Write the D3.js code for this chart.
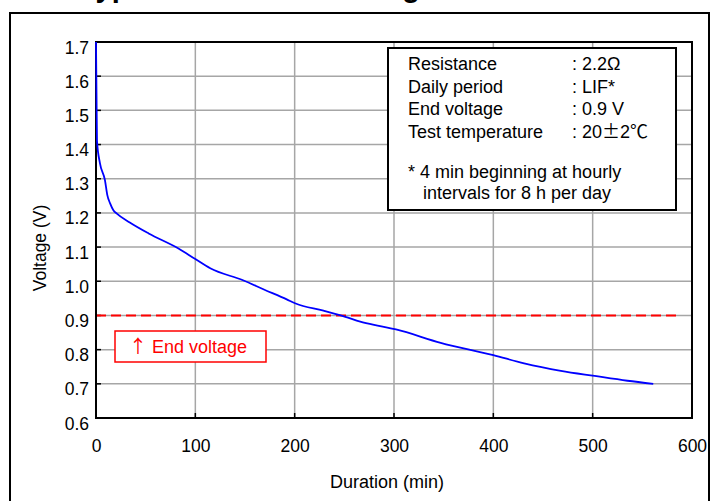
<!DOCTYPE html>
<html><head><meta charset="utf-8">
<script src="https://cdn.jsdelivr.net/npm/d3@7"></script>
<style>
html,body{margin:0;padding:0;background:#fff;}
svg text{font-family:"Liberation Sans",Arial,sans-serif;}
svg tspan.cjk{font-family:"Noto Sans CJK JP",sans-serif;}
</style>
</head><body>
<svg id="c" width="710" height="501"></svg>
<script>
// ---- data ----
const durations = [0, 0.5, 1, 4, 9, 11.4, 14.2, 17.5, 21, 34, 53, 83, 100, 115, 148, 169, 192, 201, 229, 251, 266, 286, 302, 347, 400, 431, 468, 502, 535, 561];
const voltages  = [1.70, 1.55, 1.41, 1.345, 1.296, 1.252, 1.228, 1.208, 1.198, 1.172, 1.14, 1.096, 1.065, 1.038, 1.003, 0.976, 0.947, 0.935, 0.914, 0.896, 0.882, 0.869, 0.859, 0.820, 0.784, 0.760, 0.738, 0.723, 0.709, 0.700];
const xTicks = [0, 100, 200, 300, 400, 500, 600];
const yTicks = [0.6, 0.7, 0.8, 0.9, 1.0, 1.1, 1.2, 1.3, 1.4, 1.5, 1.6, 1.7];
const endVoltage = 0.9;
const endLineStop = 585;
const legendLabels = ["Resistance", "Daily period", "End voltage", "Test temperature"];
// each value split into [text, isCJKGlyph] pieces
const legendValues = [
  [[": 2.2", false], ["\u03A9", false]],
  [[": LIF*", false]],
  [[": 0.9 V", false]],
  [[": 20", false], ["\u00B1", true], ["2", false], ["\u2103", true]]
];
const footnote = ["* 4 min beginning at hourly", "intervals for 8 h per day"];

const svg = d3.select("#c");
const x = d3.scaleLinear().domain([0, 600]).range([96, 692]);
const y = d3.scaleLinear().domain([0.6, 1.7]).range([418, 42]);

// title (mostly cut off at the top edge, as in the reference)
const title = svg.append("text").attr("y", -3).attr("font-size", 29).attr("font-weight", "bold").attr("fill", "#000");
title.append("tspan").attr("x", 80).text("Typical");
title.append("tspan").attr("x", 299).text("discharge characteristics");

// outer frame
svg.append("rect").attr("x", 10).attr("y", 13).attr("width", 699).attr("height", 520)
  .attr("fill", "none").attr("stroke", "#000").attr("stroke-width", 2);

// grid
const g = svg.append("g");
g.selectAll("line.vg").data(xTicks.slice(1, -1)).join("line")
  .attr("x1", d => x(d)).attr("x2", d => x(d)).attr("y1", y(1.7)).attr("y2", y(0.6))
  .attr("stroke", "#a6a6a6").attr("stroke-width", 1.5);
g.selectAll("line.hg").data(yTicks.slice(1, -1)).join("line")
  .attr("x1", x(0)).attr("x2", x(600)).attr("y1", d => y(d)).attr("y2", d => y(d))
  .attr("stroke", "#a6a6a6").attr("stroke-width", 1.5);

// axes
const xAxis = d3.axisBottom(x).tickValues(xTicks).tickSize(0).tickPadding(0).tickFormat(d3.format("d"));
const xa = svg.append("g").attr("transform", `translate(0,${y(0.6)})`).call(xAxis);
xa.select(".domain").remove();
xa.selectAll("text").attr("font-size", 17.5).attr("fill", "#000").attr("dy", null).attr("y", 34);

const yAxis = d3.axisLeft(y).tickValues(yTicks).tickSize(0).tickPadding(0).tickFormat(d3.format(".1f"));
const ya = svg.append("g").attr("transform", `translate(89,0)`).call(yAxis);
ya.select(".domain").remove();
ya.selectAll("text").attr("font-size", 17.5).attr("fill", "#000").attr("dy", null).attr("y", 11).attr("x", 0);

// inner tick marks
svg.selectAll("line.yt").data(yTicks).join("line")
  .attr("x1", x(0)).attr("x2", x(0) + 5).attr("y1", d => y(d)).attr("y2", d => y(d))
  .attr("stroke", "#000").attr("stroke-width", 1.5);
svg.selectAll("line.xt").data(xTicks).join("line")
  .attr("x1", d => x(d)).attr("x2", d => x(d)).attr("y1", y(0.6)).attr("y2", y(0.6) - 5)
  .attr("stroke", "#000").attr("stroke-width", 1.5);

// end voltage line
svg.append("line").attr("x1", x(0)).attr("x2", x(endLineStop)).attr("y1", y(endVoltage)).attr("y2", y(endVoltage))
  .attr("stroke", "#ff0000").attr("stroke-width", 2).attr("stroke-dasharray", "10,5");

// plot border
svg.append("rect").attr("x", x(0)).attr("y", y(1.7)).attr("width", x(600) - x(0)).attr("height", y(0.6) - y(1.7))
  .attr("fill", "none").attr("stroke", "#000").attr("stroke-width", 2);

// curve
const pts = durations.map((d, i) => [d, voltages[i]]);
svg.append("path").datum(pts)
  .attr("d", d3.line().curve(d3.curveMonotoneX).x(d => x(d[0])).y(d => y(d[1])))
  .attr("fill", "none").attr("stroke", "#0000ff").attr("stroke-width", 1.8);

// legend box
svg.append("rect").attr("x", 388).attr("y", 48).attr("width", 288).attr("height", 162)
  .attr("fill", "#fff").attr("stroke", "#000").attr("stroke-width", 2);
legendLabels.forEach((t, i) => {
  svg.append("text").attr("x", 408).attr("y", 70 + i * 22.7).attr("font-size", 18).text(t);
  const v = svg.append("text").attr("x", 572).attr("y", 70 + i * 22.7).attr("font-size", 18);
  legendValues[i].forEach(([s, cjk]) => {
    v.append("tspan").attr("class", cjk ? "cjk" : null).text(s);
  });
});
svg.append("text").attr("x", 408).attr("y", 178).attr("font-size", 18).text(footnote[0]);
svg.append("text").attr("x", 423).attr("y", 199).attr("font-size", 18).text(footnote[1]);

// end voltage label
svg.append("rect").attr("x", 115).attr("y", 331).attr("width", 151).attr("height", 31)
  .attr("fill", "#fff").attr("stroke", "#ff0000").attr("stroke-width", 1.5);
const ev = svg.append("text").attr("x", 129).attr("y", 353).attr("font-size", 18).attr("fill", "#ff0000");
ev.append("tspan").attr("class", "cjk").text("\u2191");
ev.append("tspan").text(" End voltage");

// axis titles
svg.append("text").attr("x", 387).attr("y", 488).attr("text-anchor", "middle").attr("font-size", 18).text("Duration (min)");
svg.append("text").attr("transform", "translate(46,248) rotate(-90)").attr("text-anchor", "middle").attr("font-size", 17.5).text("Voltage (V)");
</script>
</body></html>
